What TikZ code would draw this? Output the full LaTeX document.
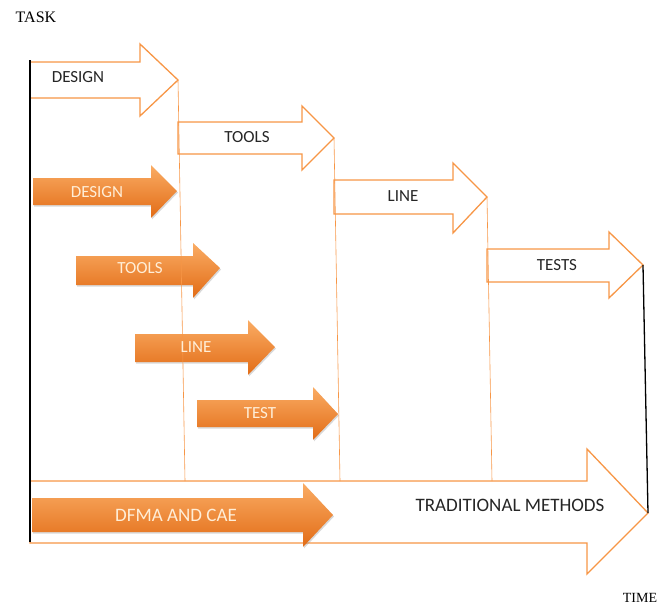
\documentclass[tikz,border=0pt]{standalone}
\usepackage{fontspec}
\setmainfont{Liberation Serif}
\newfontfamily\calib{Carlito}
\usetikzlibrary{shadows}

\definecolor{ofborder}{RGB}{247,150,70}
\definecolor{oftop}{RGB}{250,172,100}
\definecolor{ofbot}{RGB}{226,108,22}
\definecolor{oftext}{RGB}{255,238,215}

\tikzset{
  openarrow/.style={draw=ofborder, line width=1.3pt, fill=white, line join=miter},
  fullarrow/.style={top color=oftop, bottom color=ofbot,
    drop shadow={shadow xshift=1pt, shadow yshift=-1.5pt, opacity=0.3}},
  darklabel/.style={font=\calib\fontsize{17}{19}\selectfont, text=black!85},
  lightlabel/.style={font=\calib\fontsize{17}{19}\selectfont, text=oftext},
  stageline/.style={draw=ofborder, line width=0.6pt},
  axisline/.style={draw=black, line width=1.3pt}
}

\begin{document}
\begin{tikzpicture}[x=1pt, y=-1pt]
\useasboundingbox (0,0) rectangle (665,606);

% traditional methods: one stage after the other
\path [openarrow] (30,62) -- (140,62) -- (140,44) -- (178,80) -- (140,116) -- (140,98) -- (30,98) -- cycle;
\path [openarrow] (178,122) -- (302,122) -- (302,106) -- (334,138) -- (302,170) -- (302,154) -- (178,154) -- cycle;
\path [openarrow] (334,180) -- (453,180) -- (453,163) -- (487,197) -- (453,233) -- (453,214) -- (334,214) -- cycle;
\path [openarrow] (487,249) -- (609,249) -- (609,232) -- (643,265) -- (609,298) -- (609,282) -- (487,282) -- cycle;

\path [openarrow] (30,481) -- (587,481) -- (587,449) -- (648,513) -- (587,574) -- (587,543) -- (30,543) -- cycle;

% dfma and cae: stages overlap
\path [fullarrow] (33,178) -- (151,178) -- (151,165) -- (177,191) -- (151,218) -- (151,205) -- (33,205) -- cycle;
\path [fullarrow] (76,256) -- (193,256) -- (193,243) -- (220,268) -- (193,298) -- (193,285) -- (76,285) -- cycle;
\path [fullarrow] (135,334) -- (248,334) -- (248,320) -- (275,347) -- (248,375) -- (248,362) -- (135,362) -- cycle;
\path [fullarrow] (197,400) -- (313,400) -- (313,387) -- (338,414) -- (313,440) -- (313,427) -- (197,427) -- cycle;

\path [fullarrow] (32,498) -- (303,498) -- (303,483) -- (333,515) -- (303,547) -- (303,532) -- (32,532) -- cycle;

% stage boundaries
\draw [stageline] (178,80) -- (185,481);
\draw [stageline] (334,138) -- (340,481);
\draw [stageline] (487,197) -- (492,481);

% axes
\draw [axisline] (30,60) -- (30,542);
\draw [axisline] (643,265) -- (648,513);

\node[darklabel] (tdesign) at (78,77) {DESIGN};
\node[darklabel] (ttools) at (247,137) {TOOLS};
\node[darklabel] (tline) at (403,196) {LINE};
\node[darklabel] (ttests) at (557,265) {TESTS};
\node[darklabel, font=\calib\fontsize{19}{21}\selectfont] (tmethods) at (510,505) {TRADITIONAL METHODS};

\node[lightlabel] (ddesign) at (97,192) {DESIGN};
\node[lightlabel] (dtools) at (140,268) {TOOLS};
\node[lightlabel] (dline) at (196,347) {LINE};
\node[lightlabel] (dtest) at (260,413) {TEST};
\node[lightlabel, font=\calib\fontsize{19}{21}\selectfont] (dmethods) at (176,515) {DFMA AND CAE};

\node[font=\fontsize{16}{18}\selectfont] (task) at (36,17) {TASK};
\node[font=\fontsize{14}{16}\selectfont] (time) at (640,598) {TIME};

\end{tikzpicture}
\end{document}
